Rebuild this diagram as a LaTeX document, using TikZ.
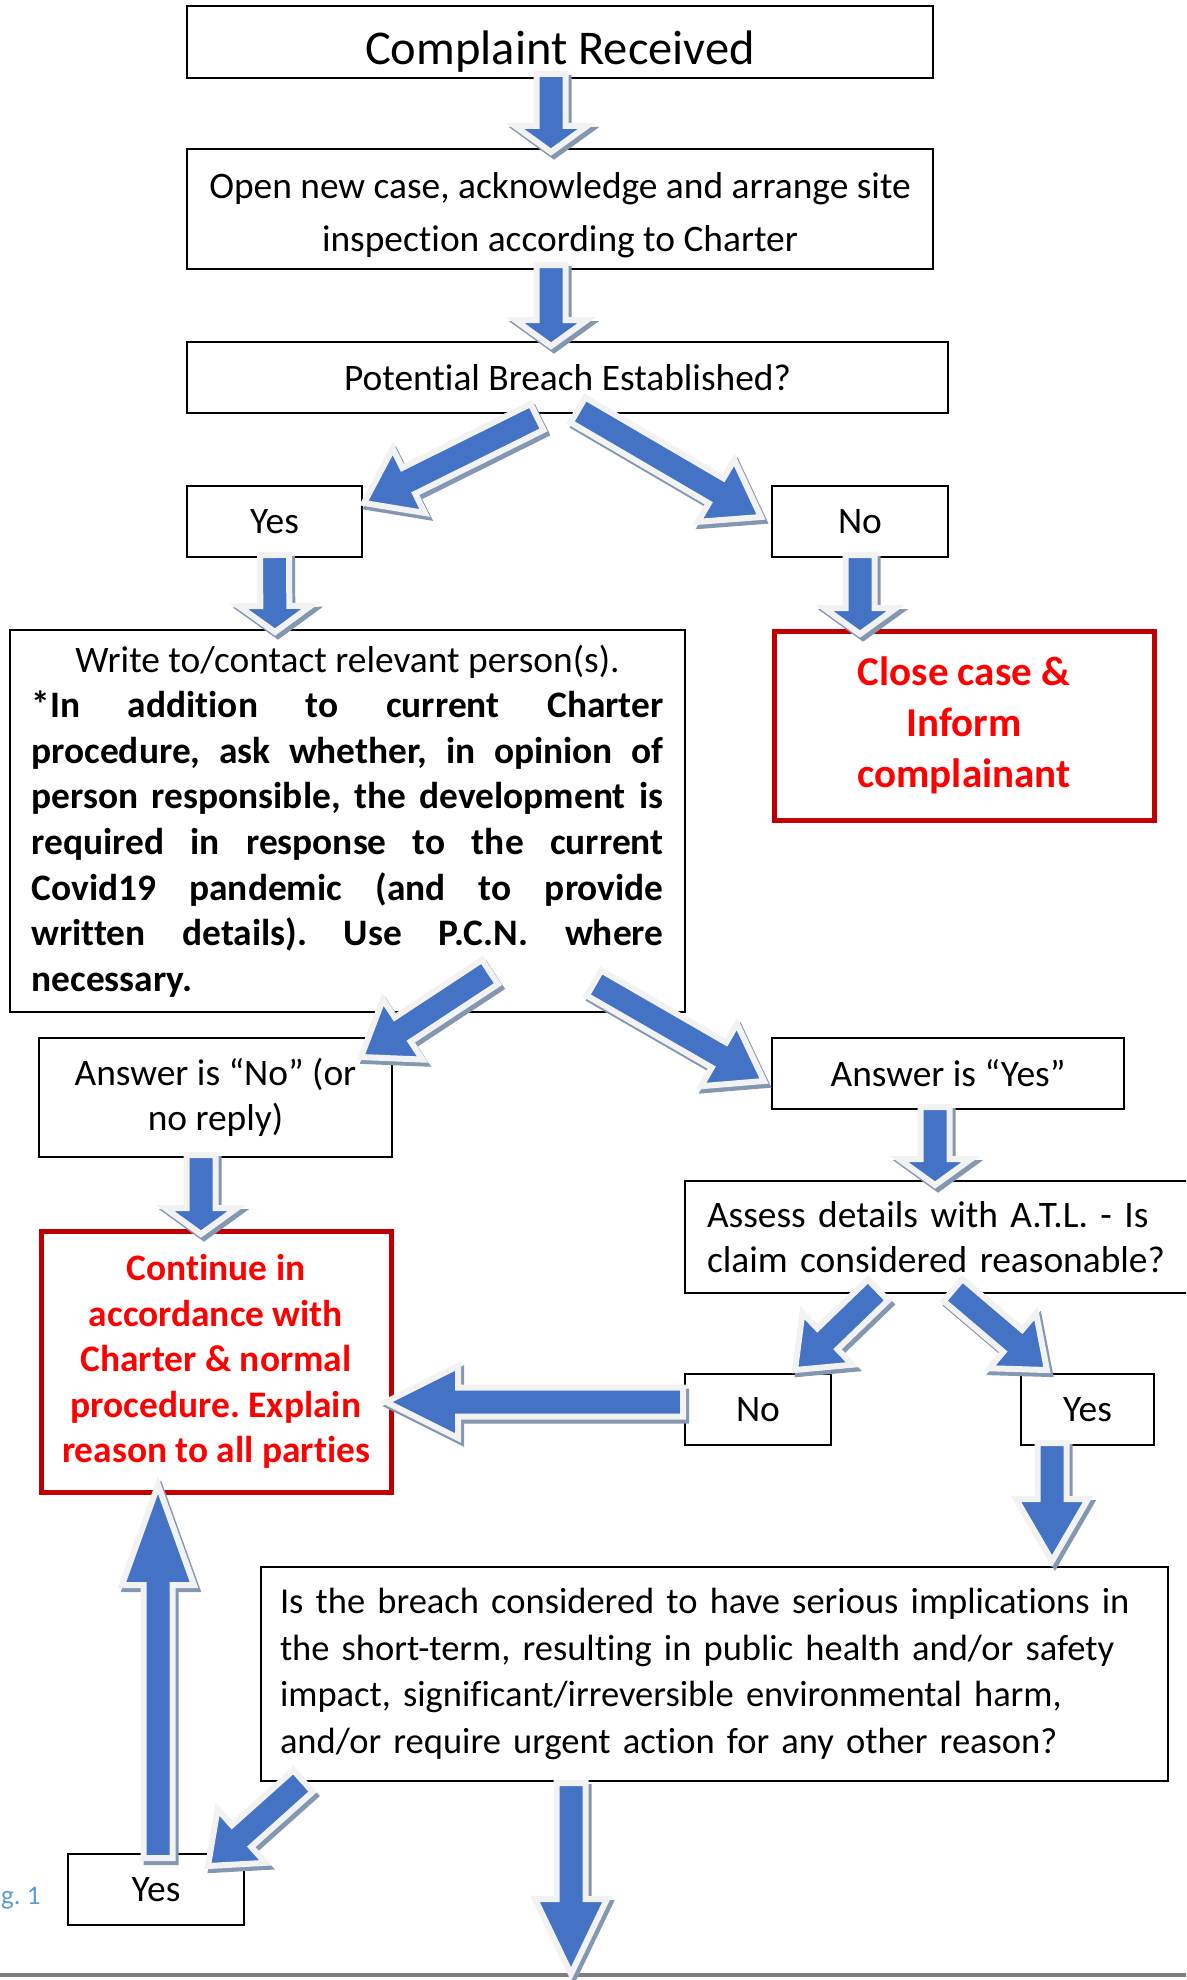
\documentclass[tikz,border=0pt]{standalone}
\usepackage{fontspec}
\setmainfont{Carlito}[Ligatures=NoCommon]
\newfontfamily\narrowfont{Carlito}[Ligatures=NoCommon, WordSpace=0.8]
\usetikzlibrary{calc}
\frenchspacing

\definecolor{arrowblue}{HTML}{4472C4}
\definecolor{arrowrim}{HTML}{F2F2F2}
\definecolor{arrowshade}{HTML}{8497B0}
\definecolor{alertred}{HTML}{FF0000}
\definecolor{alertrim}{HTML}{C00000}
\definecolor{figblue}{HTML}{5B9BD5}
\definecolor{rulegray}{HTML}{7F7F7F}

\newcommand{\bodysize}{\fontsize{37.4pt}{45.6pt}\selectfont}
\newcommand{\loosesize}{\fontsize{37.4pt}{53pt}\selectfont}
\newcommand{\narrowsize}{\narrowfont\fontsize{36.5pt}{46.6pt}\selectfont}
\newcommand{\titlesize}{\fontsize{48.5pt}{58pt}\selectfont}
\newcommand{\closesize}{\fontsize{41pt}{51pt}\selectfont}
\newcommand{\captionsize}{\fontsize{27pt}{32pt}\selectfont}

\tikzset{
    box/.style={draw, line width=2.2pt, inner sep=0pt, outer sep=0pt, align=center, font=\bodysize},
    alertbox/.style={box, draw=alertrim, line width=5pt, text=alertred, font=\bodysize\bfseries},
    arrowshadow/.style={fill=arrowshade, draw=arrowshade, line width=6pt, line join=miter, transform canvas={shift={(3,4)}}},
    arrowbody/.style={fill=arrowblue, draw=arrowrim, line width=6pt, line join=miter}
}

% block arrow: [head length]{tail}{tip}
\newcommand{\bigarrow}[3][26]{
    \coordinate (tail) at (#2);
    \coordinate (tip) at (#3);
    \coordinate (neck) at ($(tip)!#1pt!(tail)$);
    \foreach \look in {arrowshadow, arrowbody} {
        \path[\look] ($(tail)!14.5pt!90:(tip)$) -- ($(neck)!14.5pt!90:(tip)$)
            -- ($(neck)!36pt!90:(tip)$) -- (tip) -- ($(neck)!36pt!-90:(tip)$)
            -- ($(neck)!14.5pt!-90:(tip)$) -- ($(tail)!14.5pt!-90:(tip)$) -- cycle;
    }
}

\begin{document}
\begin{tikzpicture}[x=1pt, y=-1pt]

    \useasboundingbox (0,0) rectangle (1186,1980);
    \clip (0,0) rectangle (1186,1980);

    %% Boxes
    \node[box, minimum width=746pt, minimum height=72pt, font=\titlesize, text height=46pt, text depth=0pt] (complaint) at (560,42) {Complaint Received};
    \node[box, minimum width=746pt, minimum height=120pt, font=\loosesize] (opencase) at (560,209) {\rule{0pt}{38pt}Open new case, acknowledge and arrange site\\inspection according to Charter};
    \node[box, minimum width=761pt, minimum height=71pt] (breach) at (567.5,377.5) {Potential Breach Established?};
    \node[box, minimum width=175pt, minimum height=71pt] (yesA) at (274.5,521.5) {Yes};
    \node[box, minimum width=176pt, minimum height=71pt] (noA) at (860,521.5) {No};
    \node[alertbox, minimum width=380pt, minimum height=189pt, font=\closesize\bfseries] (closecase) at (964,725.5) {Close case \&\\Inform\\complainant};

    % letter to the person responsible
    \node[box, minimum width=675pt, minimum height=382pt, text width=632pt, align=justify] (writeto) at (347.5,821) {{\centering\noindent Write to/contact relevant person(s).\par}\noindent\bfseries *In addition to current Charter\linebreak procedure, ask whether, in opinion of\linebreak person responsible, the development is\linebreak required in response to the current\linebreak Covid19 pandemic (and to provide\linebreak written details). Use P.C.N. where\linebreak necessary.};

    \node[box, minimum width=353pt, minimum height=119pt] (ansno) at (215.5,1097.5) {Answer is “No” (or\\no reply)};
    \node[box, minimum width=352pt, minimum height=71pt] (ansyes) at (948,1073.5) {Answer is “Yes”};
    \node[box, minimum width=515pt, minimum height=112pt, text width=471pt, align=left] (assess) at (942.5,1237) {Assess details with A.T.L. - Is\\claim considered reasonable?};
    \node[alertbox, minimum width=350pt, minimum height=261pt] (carryon) at (216,1361.5) {Continue in\\accordance with\\Charter \& normal\\procedure. Explain\\reason to all parties};
    \node[box, minimum width=146pt, minimum height=71pt] (noB) at (758,1409.5) {No};
    \node[box, minimum width=133pt, minimum height=71pt] (yesB) at (1087.5,1409.5) {Yes};
    \node[box, minimum width=907pt, minimum height=214pt, text width=869pt, align=left, font=\narrowsize] (serious) at (714.5,1674) {Is the breach considered to have serious implications in\\the short-term, resulting in public health and/or safety\\impact, significant/irreversible environmental harm,\\and/or require urgent action for any other reason?};
    \node[box, minimum width=176pt, minimum height=71pt] (yesC) at (156,1889.5) {Yes};

    % caption and page rule
    \node[font=\captionsize, text=figblue, anchor=west, inner sep=0pt] (figlabel) at (1,1898) {g. 1};
    \draw[line width=4pt, rulegray] (0,1975) -- (1186,1975);
    \coordinate (pagefoot) at (571,1974);

    %% Arrows
    \bigarrow{$(complaint.south)+(-9,-4)$}{$(opencase.north)+(-9,3)$}
    \bigarrow{$(opencase.south)+(-9,-4)$}{$(breach.north)+(-16.5,4)$}
    \bigarrow[50]{$(breach.south)+(-30.5,4)$}{$(yesA.north east)+(2,17)$}
    \bigarrow[52]{$(breach.south)+(10.5,-3)$}{$(noA.north west)+(-11,31)$}
    \bigarrow{$(yesA.south)+(0,-2)$}{$(writeto.north)+(-72.5,2)$}
    \bigarrow{$(noA.south)+(0,-2)$}{$(closecase.north)+(-104,3)$}
    \bigarrow[50]{$(writeto.south)+(142.5,-40)$}{$(ansno.north east)+(-31,19)$}
    \bigarrow[52]{$(writeto.south)+(246.5,-29)$}{$(ansyes.north west)+(-8,43)$}
    \bigarrow{$(ansno.south)+(-14.5,-2)$}{$(carryon.north)+(-15,3)$}
    \bigarrow{$(ansyes.south)+(-13,-2)$}{$(assess.north west)+(250,4)$}
    \bigarrow[45]{$(assess.south west)+(193,-3)$}{$(noB.north east)+(-36,-4)$}
    \bigarrow[45]{$(assess.south west)+(268,-3)$}{$(yesB.north west)+(26,-4)$}
    \bigarrow[72]{$(noB.west)+(-2,-7.5)$}{$(carryon.east)+(-5,40.5)$}
    \bigarrow[62]{$(yesB.south)+(-35.5,-2)$}{$(serious.north east)+(-116,-6)$}
    \bigarrow[100]{$(yesC.north)+(2,4)$}{$(carryon.south)+(-58,-7)$}
    \bigarrow[45]{$(serious.south west)+(42,0)$}{$(yesC.north east)+(-36,12)$}
    \bigarrow[75]{$(serious.south)+(-143.5,2)$}{pagefoot}

\end{tikzpicture}
\end{document}
